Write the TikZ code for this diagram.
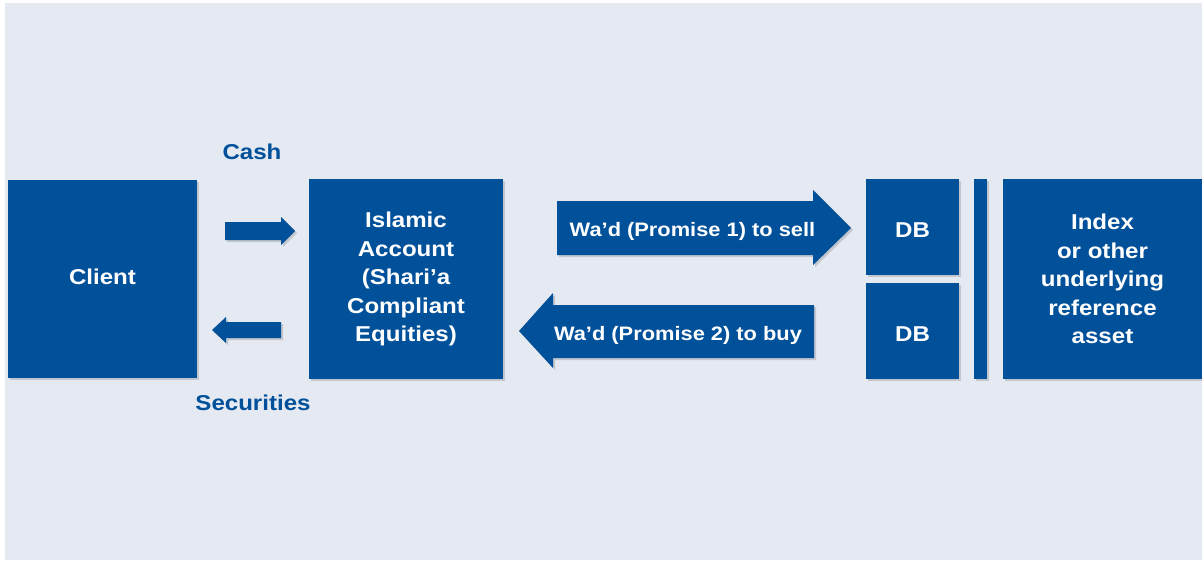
\documentclass[tikz,border=0pt]{standalone}
\usepackage{fontspec}
\setmainfont{Liberation Sans}
\newfontfamily\widefont[FakeStretch=1.12,Ligatures=TeX]{Liberation Sans}
\usetikzlibrary{shadows}
\definecolor{bg}{HTML}{E5E9F2}
\definecolor{dbblue}{HTML}{00509A}
\begin{document}
\begin{tikzpicture}[x=1pt,y=-1pt,
  box/.style={fill=dbblue, draw=none, text=white, font=\widefont\bfseries\fontsize{21.5}{28.5}\selectfont, align=center, inner sep=0pt,
    drop shadow={shadow xshift=2pt, shadow yshift=-2pt, opacity=0.15, fill=black}},
  boxlbl/.style={text=white, font=\widefont\bfseries\fontsize{21.5}{25}\selectfont, inner sep=0pt},
  lbl/.style={text=dbblue, font=\widefont\bfseries\fontsize{21.5}{25}\selectfont, inner sep=0pt},
  arrtxt/.style={text=white, font=\widefont\bfseries\fontsize{19.5}{22}\selectfont, inner sep=0pt},
  fat/.style={fill=dbblue, draw=none, drop shadow={shadow xshift=2pt, shadow yshift=-2pt, opacity=0.15, fill=black}}]
\useasboundingbox (0,0) rectangle (1202,562);
\fill[white] (0,0) rectangle (1202,562);
\fill[bg] (5,3) rectangle (1202,560);
% boxes
\node[box, minimum width=189pt, minimum height=198pt] (client) at (102.5,279) {};
\node[boxlbl] (clientlbl) at (102.5,277) {Client};
\node[box, minimum width=194pt, minimum height=200pt] (islamic) at (406,279) {Islamic\\Account\\(Shari’a\\Compliant\\Equities)};
\node[box, minimum width=93pt, minimum height=96pt] (db1) at (912.5,227) {};
\node[boxlbl] (db1lbl) at (912.5,230) {DB};
\node[box, minimum width=93pt, minimum height=96pt] (db2) at (912.5,331) {};
\node[boxlbl] (db2lbl) at (912.5,334) {DB};
\node[box, minimum width=13pt, minimum height=200pt] (bar) at (980.5,279) {};
\node[box, minimum width=199pt, minimum height=200pt] (index) at (1102.5,279) {Index\\or other\\underlying\\reference\\asset};
% small arrows
\fill[fat] (225,222) -- (281,222) -- (281,217) -- (295,231) -- (281,245) -- (281,240) -- (225,240) -- cycle;
\fill[fat] (281,322) -- (226,322) -- (226,317) -- (212,330) -- (226,343) -- (226,338) -- (281,338) -- cycle;
\node[lbl] (cash) at (252,152) {Cash};
\node[lbl] (sec) at (253,403) {Securities};
% big arrows
\fill[fat] (557,201) -- (813,201) -- (813,190) -- (851,228) -- (813,265) -- (813,255) -- (557,255) -- cycle;
\fill[fat] (814,305) -- (553,305) -- (553,293) -- (519,331) -- (553,368) -- (553,358) -- (814,358) -- cycle;
\node[arrtxt] (w1) at (692.5,231) {Wa’d (Promise 1) to sell};
\node[arrtxt] (w2) at (678,335) {Wa’d (Promise 2) to buy};
\end{tikzpicture}
\end{document}
